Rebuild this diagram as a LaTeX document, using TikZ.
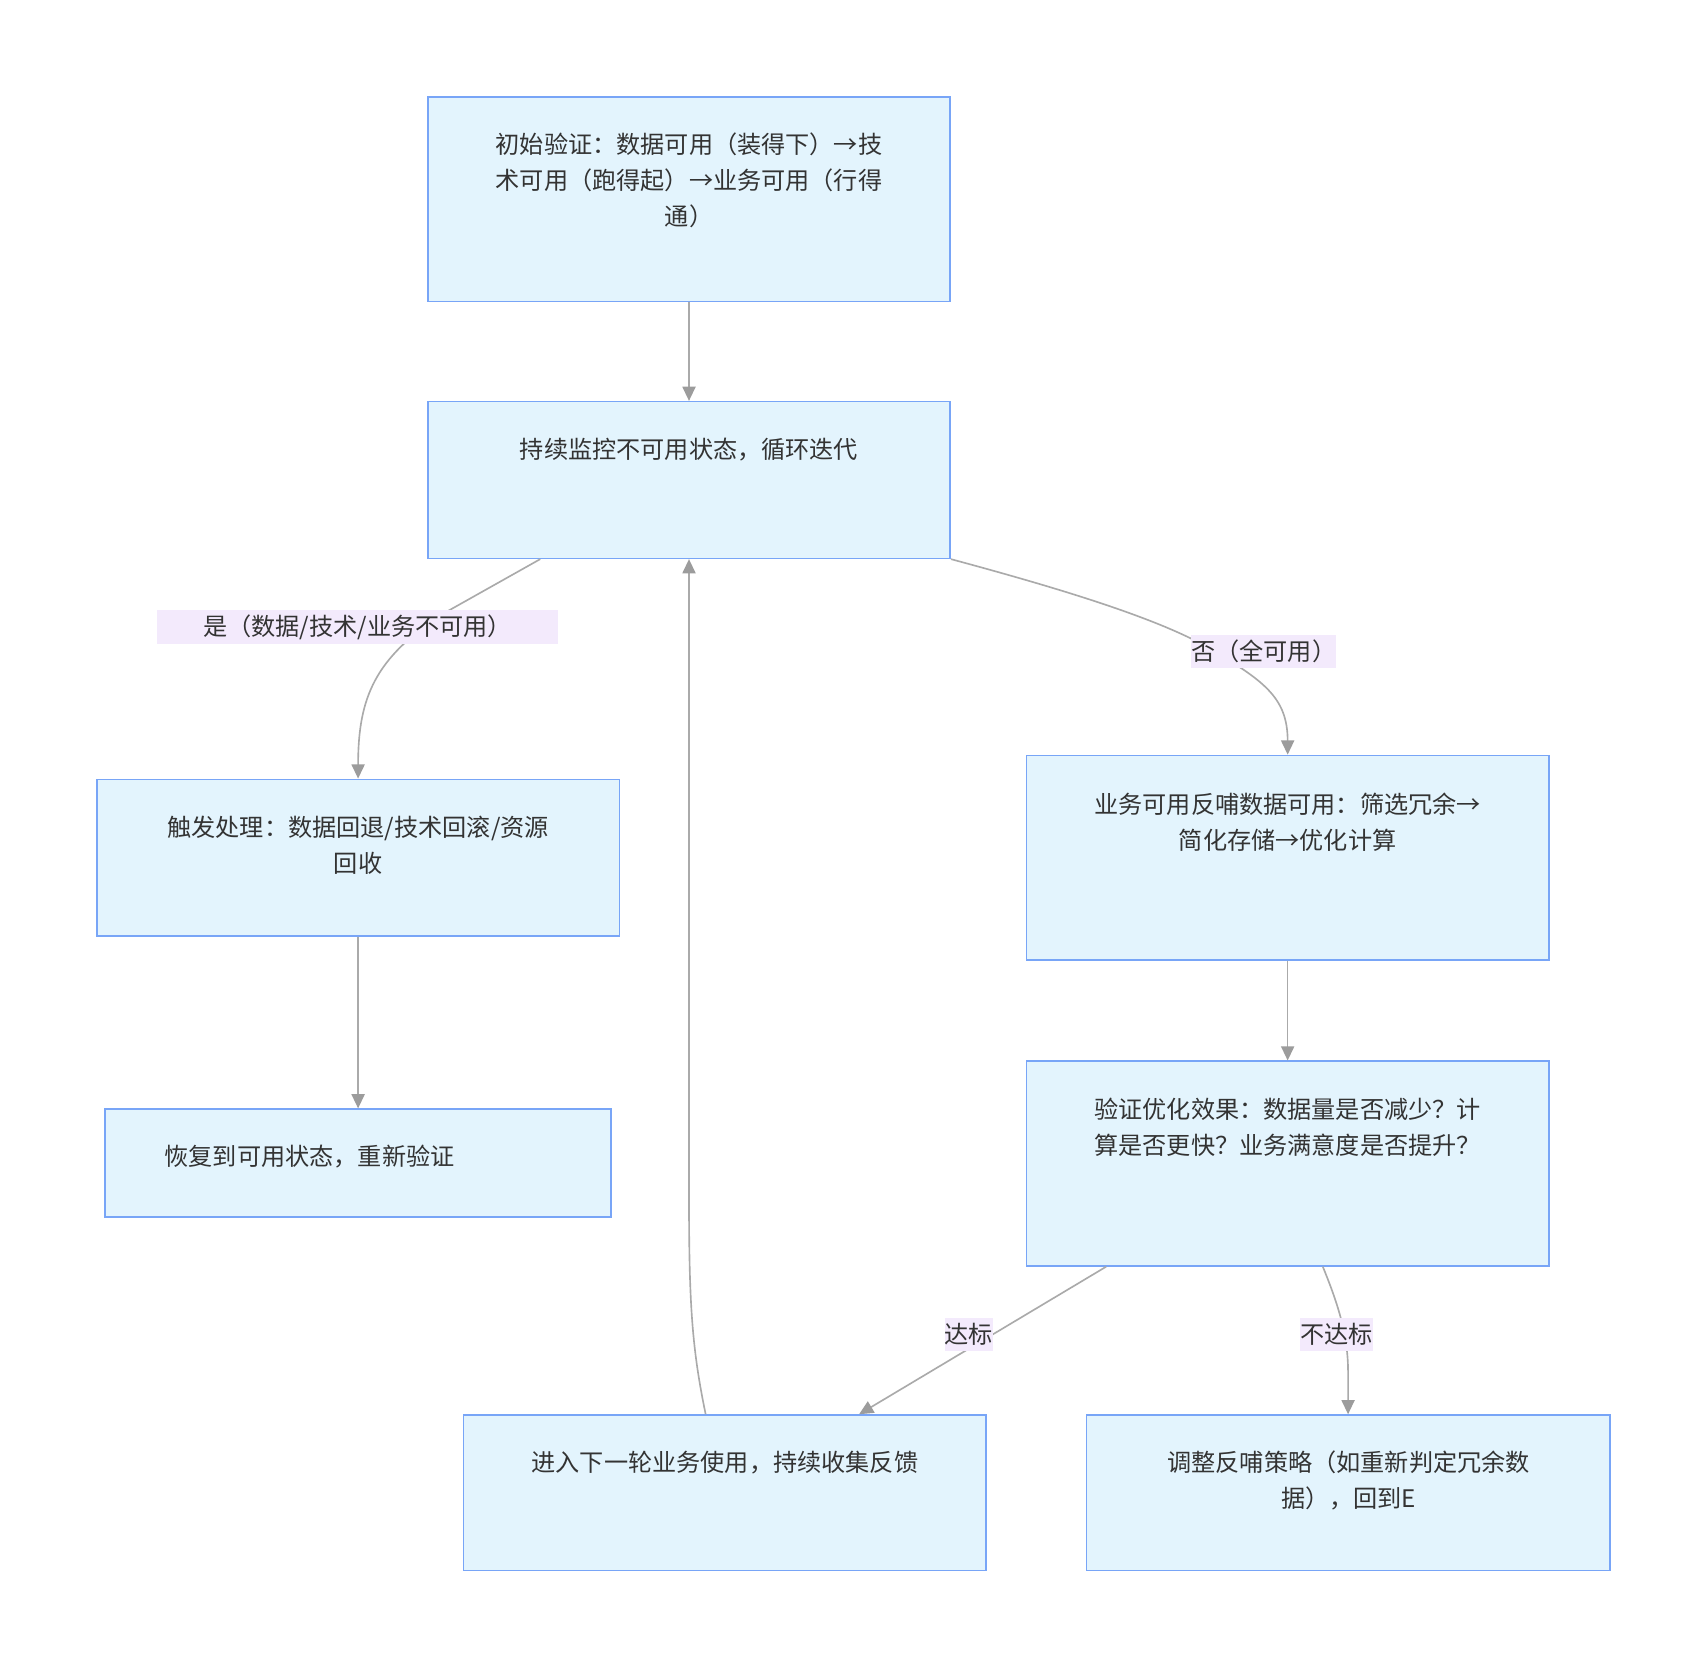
\documentclass[tikz,border=0pt]{standalone}
\usepackage{fontspec}
\setmainfont{Noto Sans CJK SC}
\usetikzlibrary{arrows.meta}
\definecolor{boxfill}{HTML}{E3F4FD}
\definecolor{boxline}{HTML}{78A5F7}
\definecolor{lblfill}{HTML}{F3EAFC}
\definecolor{edgec}{HTML}{AAAAAA}
\definecolor{tipc}{HTML}{9C9C9C}
\definecolor{textc}{HTML}{333333}
\begin{document}
\begin{tikzpicture}[x=1pt,y=-1pt,
  box/.style={draw=boxline,fill=boxfill,line width=1.4pt,rectangle,inner sep=0pt},
  txt/.style={font=\fontsize{22.2pt}{33pt}\selectfont,text=textc,inner sep=0pt,align=center},
  elabel/.style={fill=lblfill,font=\fontsize{22.2pt}{33pt}\selectfont,text=textc,inner xsep=0pt,inner ysep=0pt,minimum height=31pt},
  conn/.style={draw=edgec,line width=1.5pt,-{Triangle[width=12pt,length=13pt,fill=tipc,color=tipc]}}
]
\useasboundingbox (0,0) rectangle (1560,1525);
\fill[white] (0,0) rectangle (1560,1525);

% boxes
\node[box,minimum width=480pt,minimum height=188pt] (A) at (633,183) {};
\node[box,minimum width=480pt,minimum height=144pt] (B) at (633,441) {};
\node[box,minimum width=480pt,minimum height=144pt] (C) at (329,788) {};
\node[box,minimum width=465pt,minimum height=99pt] (D) at (329,1068.5) {};
\node[box,minimum width=480pt,minimum height=188pt] (E) at (1183,788) {};
\node[box,minimum width=480pt,minimum height=188pt] (F) at (1183,1069) {};
\node[box,minimum width=480pt,minimum height=143pt] (G) at (666,1371.5) {};
\node[box,minimum width=481pt,minimum height=143pt] (H) at (1238.5,1371.5) {};

% texts
\node[txt] (At) at (633,166) {初始验证：数据可用（装得下）→技\\术可用（跑得起）→业务可用（行得\\通）};
\node[txt] (Bt) at (633,413) {持续监控不可用状态，循环迭代};
\node[txt] (Ct) at (329,776.5) {触发处理：数据回退/技术回滚/资源\\回收};
\node[txt,anchor=west] (Dt) at (151,1063) {恢复到可用状态，重新验证};
\node[txt] (Et) at (1183,755.5) {业务可用反哺数据可用：筛选冗余→\\简化存储→优化计算};
\node[txt] (Ft) at (1183,1035.5) {验证优化效果：数据量是否减少？计\\算是否更快？业务满意度是否提升？};
\node[txt] (Gt) at (666,1344) {进入下一轮业务使用，持续收集反馈};
\node[txt] (Ht) at (1239,1360.5) {调整反哺策略（如重新判定冗余数\\据），回到E};

% connectors
\draw[conn] (A.south) -- (B.north);
\draw[conn] ([xshift=104pt]B.south west) -- (405,565) .. controls (345,605) and (329,640) .. (C.north);
\draw[conn] (B.south east) .. controls (960,537) and (1060,566) .. (1110,595) .. controls (1160,625) and (1183,640) .. (E.north);
\draw[conn] (C.south) -- (D.north);
\draw[conn] (E.south) -- (F.north);
\draw[conn] ([xshift=74pt]F.south west) -- ([xshift=364pt]G.north west);
\draw[conn] ([xshift=273pt]F.south west) .. controls (1228,1195) and (1238.5,1225) .. (1238.5,1260) -- (H.north);
\draw[conn] ([xshift=223pt]G.north west) .. controls (636,1240) and (633,1200) .. (633,1100) -- (B.south);

% edge labels
\node[elabel,minimum width=369pt] (L1) at (328.5,576) {是（数据/技术/业务不可用）};
\node[elabel] (L2) at (1161,598.5) {否（全可用）};
\node[elabel] (L3) at (890,1226) {达标};
\node[elabel] (L4) at (1228,1226) {不达标};
\end{tikzpicture}
\end{document}
